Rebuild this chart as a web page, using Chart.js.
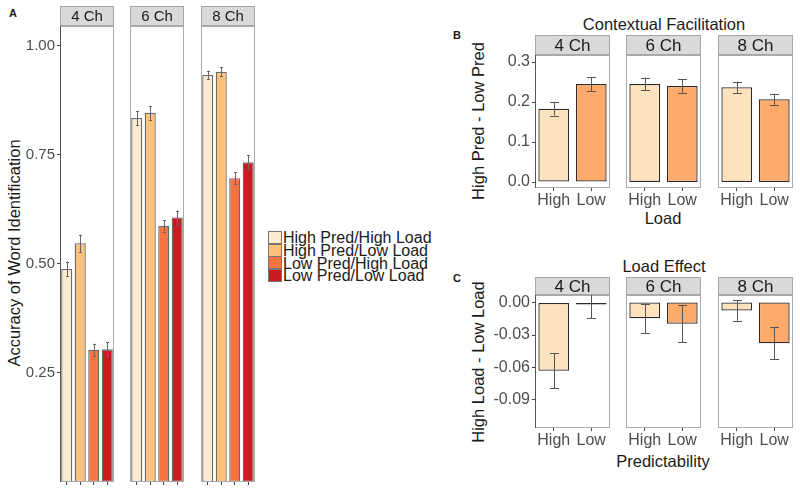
<!DOCTYPE html>
<html>
<head>
<meta charset="utf-8">
<script src="https://cdn.jsdelivr.net/npm/chart.js@4.4.1/dist/chart.umd.min.js"></script>
<style>
  body { margin: 0; background: #fff; font-family: "Liberation Sans", Arial, sans-serif; }
  #fig { position: relative; width: 800px; height: 491px; overflow: hidden; background: #fff; }
  #fig canvas { position: absolute; }
  .t { position: absolute; white-space: nowrap; color: #1a1a1a; line-height: 1; }
  .c { transform: translateX(-50%); }
  .rot { transform: translate(-50%, -50%) rotate(-90deg); }
  .tag { font-weight: bold; font-size: 11px; }
  .key { position: absolute; width: 12px; height: 11px; border: 1px solid #777; }
</style>
</head>
<body>
<div id="fig">
  <div class="t tag" style="left:9px;top:8px;">A</div>
  <div class="t tag" style="left:453px;top:30px;">B</div>
  <div class="t tag" style="left:453px;top:273px;">C</div>

  <div class="t rot" style="left:14px;top:253px;font-size:16.5px;">Accuracy of Word Identification</div>
  <div class="t rot" style="left:478px;top:121px;font-size:16.5px;">High Pred - Low Pred</div>
  <div class="t rot" style="left:478px;top:362px;font-size:16.5px;">High Load - Low Load</div>

  <div class="t c" style="left:664px;top:16px;font-size:16.5px;">Contextual Facilitation</div>
  <div class="t c" style="left:663px;top:210px;font-size:16.5px;">Load</div>
  <div class="t c" style="left:664px;top:258px;font-size:16.5px;">Load Effect</div>
  <div class="t c" style="left:663px;top:453px;font-size:16.5px;">Predictability</div>

  <div id="legend"></div>
</div>

<script>
// facets
const channels = ['4 Ch', '6 Ch', '8 Ch'];

// panel A: accuracy by condition, one row per channel
const conditions = ['High Pred/High Load', 'High Pred/Low Load', 'Low Pred/High Load', 'Low Pred/Low Load'];
const conditionColors = ['#FDEBD0', '#FDC27A', '#F5743F', '#CC1B1E'];
const accuracyMean = [
  [0.488, 0.547, 0.303, 0.304],
  [0.834, 0.846, 0.587, 0.606],
  [0.933, 0.940, 0.696, 0.733]
];
const accuracyErr = [
  [0.017, 0.020, 0.014, 0.016],
  [0.016, 0.016, 0.013, 0.016],
  [0.010, 0.010, 0.014, 0.016]
];
const accuracyTicks = [0.25, 0.50, 0.75, 1.00];

// panel B: contextual facilitation (high pred - low pred) by load
const loadLevels = ['High', 'Low'];
const facilitationMean = [
  [0.183, 0.245],
  [0.245, 0.240],
  [0.237, 0.207]
];
const facilitationErr = [
  [0.017, 0.017],
  [0.016, 0.017],
  [0.014, 0.014]
];
const facilitationTicks = [0.0, 0.1, 0.2, 0.3];

// panel C: load effect (high load - low load) by predictability
const predLevels = ['High', 'Low'];
const loadEffectMean = [
  [-0.063, -0.0005],
  [-0.0145, -0.0197],
  [-0.0074, -0.0376]
];
const loadEffectErr = [
  [0.0163, 0.014],
  [0.0136, 0.017],
  [0.0094, 0.0146]
];
const loadEffectTicks = [0.00, -0.03, -0.06, -0.09];
const diffColors = ['#FDE3BD', '#FDAA6A'];

const fig = document.getElementById('fig');
const FONT = '"Liberation Sans", Arial, sans-serif';

// grey strip on top of each panel + panel border
const facetFrame = {
  id: 'facetFrame',
  afterDatasetsDraw(chart, args, o) {
    const { ctx, chartArea: a } = chart;
    ctx.save();
    ctx.lineWidth = 1;
    ctx.strokeStyle = '#ababab';
    ctx.strokeRect(a.left + 0.5, a.top + 0.5, a.right - a.left - 1, a.bottom - a.top - 1);
    if (o.axisLine) {
      ctx.strokeStyle = '#555';
      ctx.beginPath();
      ctx.moveTo(a.left + 0.5, a.top);
      ctx.lineTo(a.left + 0.5, a.bottom);
      ctx.stroke();
    }
    ctx.fillStyle = '#d9d9d9';
    ctx.fillRect(a.left, 0, a.right - a.left, a.top);
    ctx.strokeStyle = '#a6a6a6';
    ctx.strokeRect(a.left + 0.5, 0.5, a.right - a.left - 1, a.top - 1);
    ctx.fillStyle = '#1a1a1a';
    ctx.font = o.font;
    ctx.textAlign = 'center';
    ctx.textBaseline = 'middle';
    ctx.fillText(o.strip, (a.left + a.right) / 2, a.top / 2 + 1);
    ctx.restore();
  }
};

const errorBars = {
  id: 'errorBars',
  afterDatasetsDraw(chart, args, o) {
    const { ctx, chartArea: a } = chart;
    const y = chart.scales.y;
    ctx.save();
    ctx.beginPath();
    ctx.rect(a.left, a.top, a.right - a.left, a.bottom - a.top);
    ctx.clip();
    ctx.strokeStyle = o.color;
    ctx.lineWidth = 1;
    chart.data.datasets.forEach((ds, di) => {
      chart.getDatasetMeta(di).data.forEach((bar, i) => {
        const hi = y.getPixelForValue(ds.data[i] + ds.errors[i]);
        const lo = y.getPixelForValue(ds.data[i] - ds.errors[i]);
        const x = Math.round(bar.x) + 0.5;
        ctx.beginPath();
        ctx.moveTo(x, hi); ctx.lineTo(x, lo);
        ctx.moveTo(x - o.cap, Math.round(hi) + 0.5); ctx.lineTo(x + o.cap, Math.round(hi) + 0.5);
        ctx.moveTo(x - o.cap, Math.round(lo) + 0.5); ctx.lineTo(x + o.cap, Math.round(lo) + 0.5);
        ctx.stroke();
      });
    });
    ctx.restore();
  }
};

function facet(spec, i) {
  const first = i === 0;
  const yw = first ? spec.yw : 0;
  const W = yw + spec.w + 1;
  const H = spec.stripH + spec.plotH + spec.xh;
  const canvas = document.createElement('canvas');
  canvas.width = W; canvas.height = H;
  canvas.style.left = (spec.lefts[i] - yw) + 'px';
  canvas.style.top = spec.stripTop + 'px';
  canvas.style.width = W + 'px';
  canvas.style.height = H + 'px';
  fig.appendChild(canvas);

  new Chart(canvas, {
    type: 'bar',
    data: {
      labels: spec.labels,
      datasets: [{
        data: spec.means[i],
        errors: spec.errs[i],
        backgroundColor: spec.colors,
        borderColor: spec.barBorder,
        borderWidth: spec.barBorderW,
        borderSkipped: false,
        inflateAmount: 0,
        minBarLength: spec.minBar,
        barPercentage: 0.82,
        categoryPercentage: 1
      }]
    },
    options: {
      responsive: false,
      animation: false,
      devicePixelRatio: 1,
      layout: { padding: { top: spec.stripH, right: 1, left: 0, bottom: 0 } },
      plugins: {
        legend: { display: false },
        tooltip: { enabled: false },
        facetFrame: { strip: channels[i], font: spec.stripFont, axisLine: first },
        errorBars: { cap: spec.cap, color: spec.errColor }
      },
      scales: {
        x: {
          grid: { display: true, drawOnChartArea: false, drawTicks: true, tickLength: 3, color: '#444', offset: false },
          border: { display: false },
          ticks: {
            display: spec.showX,
            color: '#4d4d4d',
            font: { family: FONT, size: 16 },
            padding: 0,
            maxRotation: 0,
            autoSkip: false
          },
          afterFit: s => { s.height = spec.xh; }
        },
        y: {
          display: first,
          min: spec.min,
          max: spec.max,
          afterBuildTicks: s => { s.ticks = spec.ticks.map(v => ({ value: v })); },
          grid: { drawOnChartArea: false, drawTicks: true, tickLength: 3, color: '#444' },
          border: { display: false },
          ticks: {
            color: '#4d4d4d',
            font: { family: FONT, size: spec.tickSize },
            padding: 2,
            callback: v => Number(v).toFixed(spec.dec)
          },
          afterFit: s => { s.width = yw; s.paddingTop = 0; s.paddingBottom = 0; }
        }
      }
    },
    plugins: [facetFrame, errorBars]
  });
}

const panelA = {
  lefts: [60, 130, 201], w: 54, yw: 50,
  stripTop: 6, stripH: 20, plotH: 456, xh: 6,
  labels: conditions, means: accuracyMean, errs: accuracyErr, colors: conditionColors,
  barBorder: '#6a6a6a', barBorderW: 1.3, minBar: 0, errColor: '#666', cap: 1.5,
  min: 0, max: 1.045, ticks: accuracyTicks, dec: 2, tickSize: 15,
  stripFont: '15px ' + FONT, showX: false
};
const panelB = {
  lefts: [535, 626, 718], w: 75, yw: 45,
  stripTop: 35, stripH: 20, plotH: 133, xh: 24,
  labels: loadLevels, means: facilitationMean, errs: facilitationErr, colors: diffColors,
  barBorder: '#2b2b2b', barBorderW: 1.3, minBar: 0, errColor: '#555', cap: 4.5,
  min: -0.015, max: 0.3175, ticks: facilitationTicks, dec: 1, tickSize: 16,
  stripFont: '17px ' + FONT, showX: true
};
const panelC = {
  lefts: [535, 626, 718], w: 75, yw: 60,
  stripTop: 277, stripH: 18, plotH: 133, xh: 24,
  labels: predLevels, means: loadEffectMean, errs: loadEffectErr, colors: diffColors,
  barBorder: '#2b2b2b', barBorderW: 1.3, minBar: 2, errColor: '#555', cap: 4.5,
  min: -0.116, max: 0.007, ticks: loadEffectTicks, dec: 2, tickSize: 16,
  stripFont: '17px ' + FONT, showX: true
};

[panelA, panelB, panelC].forEach(p => channels.forEach((c, i) => facet(p, i)));

// legend for panel A
const legend = document.getElementById('legend');
conditions.forEach((name, i) => {
  const box = document.createElement('div');
  box.className = 'key';
  box.style.left = '268px';
  box.style.top = (231 + i * 12.5) + 'px';
  box.style.background = conditionColors[i];
  legend.appendChild(box);
  const txt = document.createElement('div');
  txt.className = 't';
  txt.style.left = '283px';
  txt.style.top = (230 + i * 12.8) + 'px';
  txt.style.fontSize = '16px';
  txt.textContent = name;
  legend.appendChild(txt);
});
</script>
</body>
</html>
